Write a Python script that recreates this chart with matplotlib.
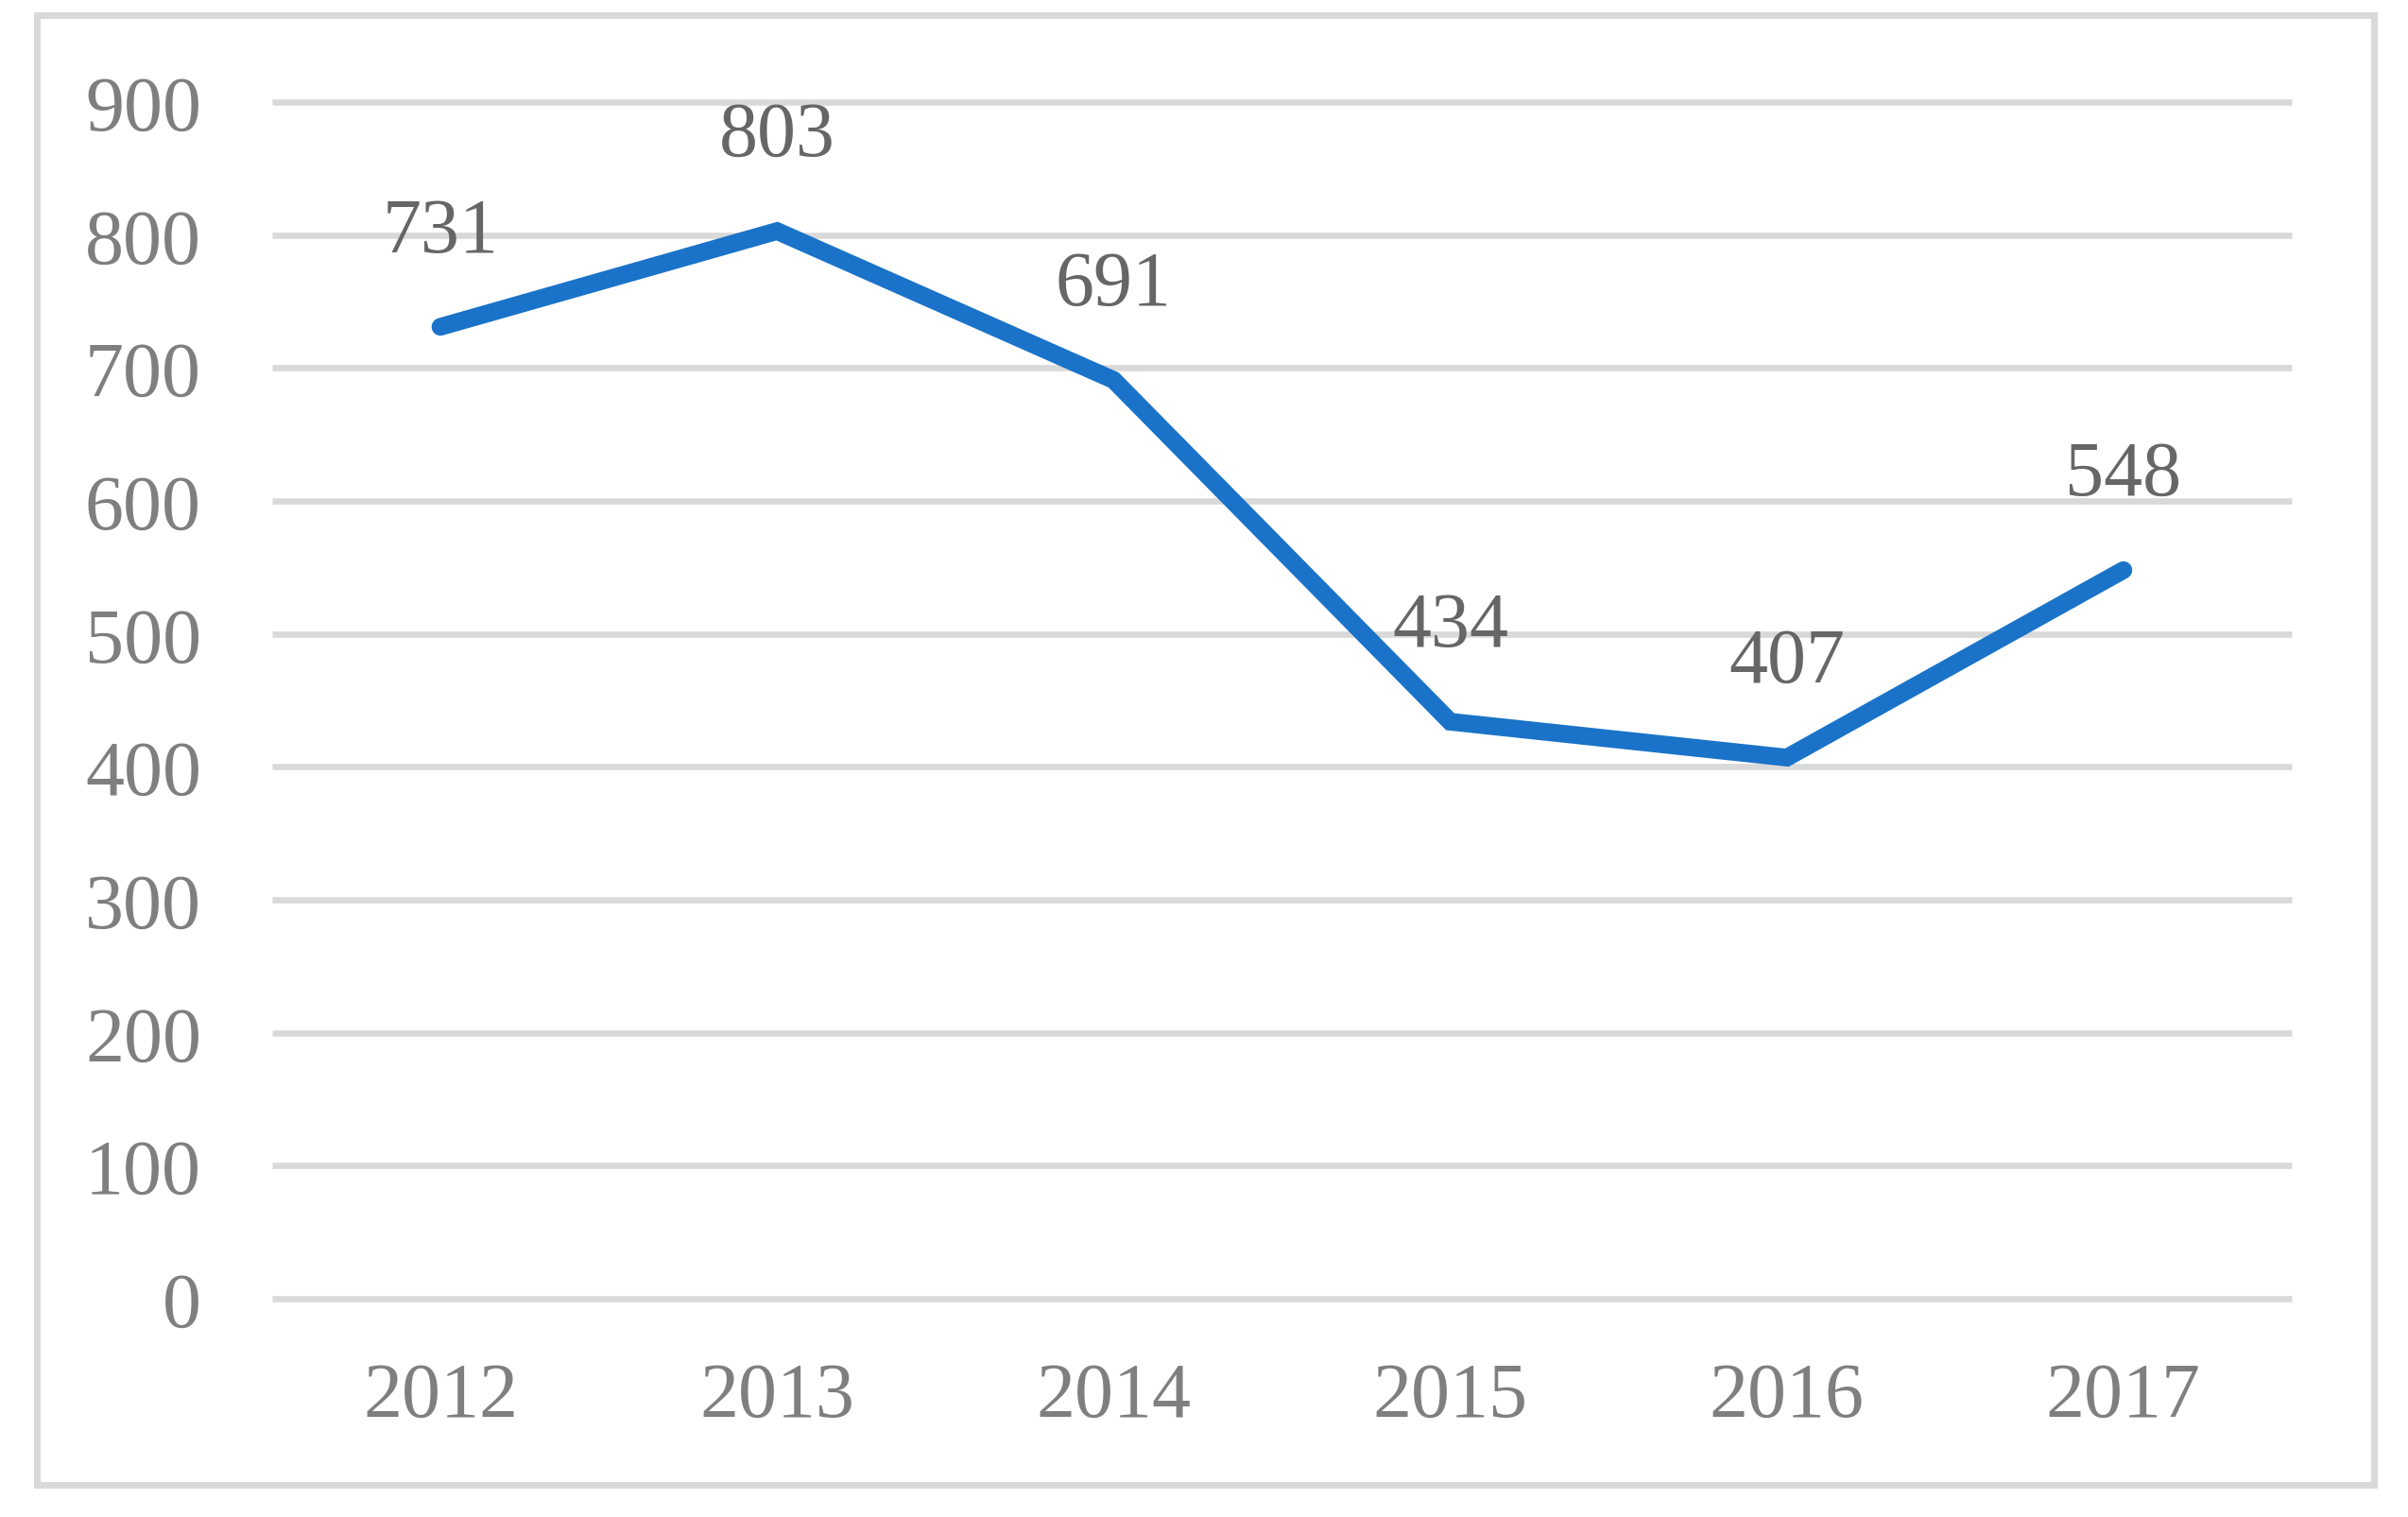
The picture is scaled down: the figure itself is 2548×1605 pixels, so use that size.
import matplotlib.pyplot as plt
from matplotlib.patches import Rectangle

years = ['2012', '2013', '2014', '2015', '2016', '2017']
values = [731, 803, 691, 434, 407, 548]
y_ticks = [0, 100, 200, 300, 400, 500, 600, 700, 800, 900]

plt.rcParams['font.family'] = ['Liberation Serif', 'DejaVu Serif']

fig = plt.figure(figsize=(25.48, 16.06), dpi=100)
ax = fig.add_axes([0.1130, 0.1438, 0.8387, 0.7883])

x = list(range(len(years)))
ax.plot(x, values, color='#1a73c8', linewidth=13.5,
        solid_capstyle='round', solid_joinstyle='miter', zorder=3)

for xi, v in zip(x, values):
    ax.annotate(str(v), (xi, v), xytext=(0, 72), textcoords='offset points',
                ha='center', va='center', fontsize=59, color='#666666')

ax.set_xlim(-0.5, len(years) - 0.5)
ax.set_ylim(0, 900)
ax.set_xticks(x)
ax.set_xticklabels(years)
ax.set_yticks(y_ticks)
ax.set_yticklabels([str(t) for t in y_ticks])

ax.grid(axis='y', color='#d9d9d9', linewidth=4.8, zorder=0)
for gl in ax.get_ygridlines():
    gl.set_clip_on(False)
    gl.set_solid_capstyle('butt')
ax.set_axisbelow(True)
for s in ax.spines.values():
    s.set_visible(False)
ax.tick_params(axis='both', length=0, labelsize=59, labelcolor='#7f7f7f')
ax.tick_params(axis='y', pad=54)
ax.tick_params(axis='x', pad=48)

# outer chart border
fig.patches.append(Rectangle((0.0153, 0.0212), 0.9706, 0.9682,
                             transform=fig.transFigure, fill=False,
                             edgecolor='#d9d9d9', linewidth=5))

fig.savefig('out.png', dpi=100, facecolor='white')
